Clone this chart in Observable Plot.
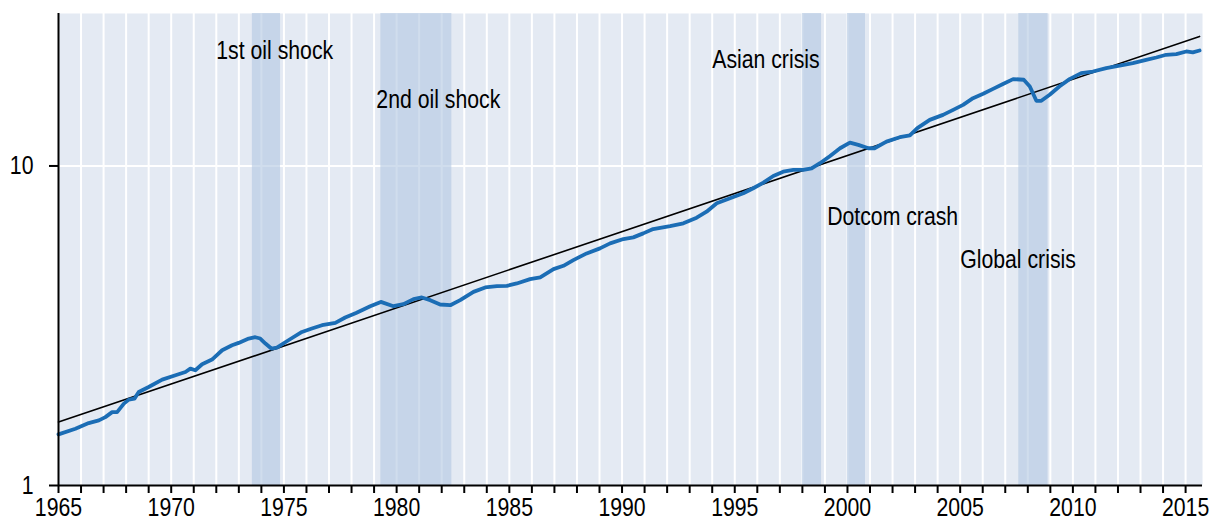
<!DOCTYPE html>
<html>
<head>
<meta charset="utf-8">
<script src="https://cdn.jsdelivr.net/npm/d3@7"></script>
<script src="https://cdn.jsdelivr.net/npm/@observablehq/plot@0.6"></script>
<style>
  html, body { margin: 0; padding: 0; background: #fff; }
  #chart svg { display: block; }
</style>
</head>
<body>
<div id="chart"></div>
<script>
// Series: index level (log scale)
const dates = [
  1965.0, 1965.75, 1966.34, 1966.79, 1967.08, 1967.38, 1967.6, 1967.9, 1968.12, 1968.37,
  1968.56, 1969.0, 1969.6, 1970.19, 1970.63, 1970.85, 1971.07, 1971.37, 1971.81, 1972.26,
  1972.7, 1972.99, 1973.44, 1973.73, 1973.95, 1974.18, 1974.44, 1974.69, 1975.2, 1975.8,
  1976.24, 1976.69, 1977.28, 1977.72, 1978.2, 1978.83, 1979.3, 1979.86, 1980.3, 1980.75,
  1981.12, 1981.49, 1981.93, 1982.38, 1982.82, 1983.41, 1983.93, 1984.45, 1984.89, 1985.33,
  1985.92, 1986.37, 1986.96, 1987.4, 1987.84, 1988.43, 1989.02, 1989.47, 1990.06, 1990.5,
  1990.94, 1991.38, 1992.13, 1992.72, 1993.31, 1993.75, 1994.2, 1994.79, 1995.38, 1995.82,
  1996.27, 1996.71, 1997.15, 1997.6, 1998.04, 1998.41, 1998.78, 1999.23, 1999.67, 2000.11,
  2000.48, 2000.93, 2001.2, 2001.73, 2002.32, 2002.77, 2003.1, 2003.65, 2004.24, 2004.69,
  2005.13, 2005.57, 2006.02, 2006.46, 2006.9, 2007.35, 2007.82, 2008.09, 2008.38, 2008.6,
  2008.97, 2009.4, 2009.85, 2010.37, 2010.89, 2011.48, 2012.07, 2012.66, 2013.25, 2013.7,
  2014.14, 2014.59, 2015.03, 2015.32, 2015.62
];
const level = [
  1.445, 1.506, 1.568, 1.599, 1.637, 1.697, 1.697, 1.804, 1.857, 1.870,
  1.961, 2.033, 2.145, 2.213, 2.266, 2.322, 2.294, 2.395, 2.478, 2.650,
  2.748, 2.794, 2.884, 2.911, 2.884, 2.782, 2.683, 2.702, 2.848, 3.024,
  3.099, 3.174, 3.227, 3.355, 3.468, 3.640, 3.755, 3.640, 3.693, 3.830,
  3.877, 3.802, 3.685, 3.666, 3.802, 4.036, 4.166, 4.206, 4.215, 4.289,
  4.424, 4.479, 4.755, 4.870, 5.074, 5.325, 5.521, 5.724, 5.905, 5.977,
  6.152, 6.346, 6.485, 6.613, 6.886, 7.191, 7.640, 7.920, 8.211, 8.514,
  8.864, 9.304, 9.597, 9.716, 9.716, 9.835, 10.20, 10.75, 11.36, 11.83,
  11.64, 11.36, 11.36, 11.92, 12.30, 12.46, 13.13, 13.94, 14.45, 14.98,
  15.53, 16.30, 16.82, 17.43, 18.04, 18.70, 18.61, 17.73, 15.99, 15.99,
  16.70, 17.73, 18.70, 19.53, 19.75, 20.25, 20.59, 20.99, 21.49, 21.85,
  22.28, 22.39, 22.82, 22.66, 22.98
];

// Log-linear trend end points
const trendDates = [1965.0, 2015.62];
const trendLevel = [1.579, 25.43];

// Crisis periods
const crisisNames = ["1st oil shock", "2nd oil shock", "Asian crisis", "Dotcom crash", "Global crisis"];
const crisisStart = [1973.6, 1979.3, 1998.0, 2000.0, 2007.6];
const crisisEnd   = [1974.85, 1982.45, 1998.85, 2000.8, 2008.9];
// Label anchor (data coordinates)
const labelDate  = [1972.0, 1979.1, 1994.0, 1999.1, 2005.0];
const labelLevel = [22.9, 16.1, 21.5, 6.92, 5.07];

// Axes
const yearTicks = d3.range(1965, 2016);
const gridYears = d3.range(1966, 2016);
const yTicks = [1, 10];

const series = dates.map((d, i) => ({date: d, value: level[i]}));
const trend = trendDates.map((d, i) => ({date: d, value: trendLevel[i]}));
const crises = crisisNames.map((n, i) => ({name: n, x1: crisisStart[i], x2: crisisEnd[i]}));
const labels = crisisNames.map((n, i) => ({name: n, date: labelDate[i], value: labelLevel[i]}));

const FONT = "'Liberation Sans', Arial, sans-serif";

const chart = Plot.plot({
  width: 1217,
  height: 521,
  marginTop: 13,
  marginBottom: 36,
  marginLeft: 58,
  marginRight: 15,
  style: {fontFamily: FONT, fontSize: "25px", color: "black", background: "white"},
  x: {domain: [1965, 2015.75], label: null},
  y: {type: "log", domain: [1, 30], label: null},
  marks: [
    Plot.frame({fill: "#e4eaf3", stroke: "none"}),
    Plot.ruleX(gridYears, {stroke: "white", strokeWidth: 2}),
    Plot.ruleY([10], {stroke: "white", strokeWidth: 2}),
    Plot.rectX(crises, {x1: "x1", x2: "x2", y1: 1, y2: 30, fill: "#b3c8e2", fillOpacity: 0.62}),
    Plot.line(trend, {x: "date", y: "value", stroke: "black", strokeWidth: 1.6}),
    Plot.line(series, {x: "date", y: "value", stroke: "#1b6db5", strokeWidth: 3.8, curve: "linear"}),
    Plot.text(labels, {x: "date", y: "value", text: "name", textAnchor: "start", fill: "black", fontSize: 25}),
    Plot.axisX({ticks: yearTicks, tickFormat: d => d % 5 === 0 ? String(d) : "", tickSize: 8, tickPadding: 5, strokeWidth: 2, fontSize: 25, label: null}),
    Plot.axisY({ticks: yTicks, tickFormat: d => String(d), tickSize: 9, tickPadding: 16, strokeWidth: 2, fontSize: 25, label: null}),
    Plot.ruleX([1965], {stroke: "black", strokeWidth: 2}),
    Plot.ruleY([1], {stroke: "black", strokeWidth: 2})
  ]
});
document.getElementById("chart").append(chart);

// Condense glyphs horizontally around each text's anchor point (narrow typeface look)
chart.querySelectorAll("text").forEach(t => {
  const tr = t.getAttribute("transform");
  if (tr && tr.indexOf("translate") >= 0) {
    t.setAttribute("transform", tr + " scale(0.85,1)");
  }
});
</script>
</body>
</html>
